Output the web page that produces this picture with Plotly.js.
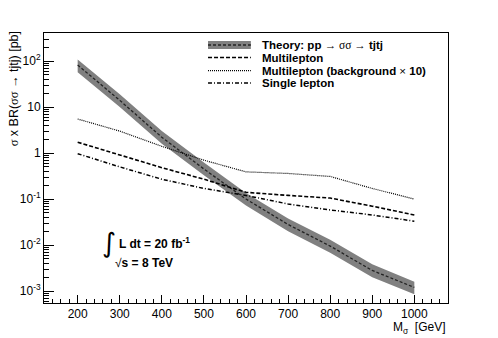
<!DOCTYPE html>
<html>
<head>
<meta charset="utf-8">
<script src="https://cdn.plot.ly/plotly-3.0.1.min.js"></script>
<style>
  body { margin: 0; background: #fff; }
  #chartDiv { width: 498px; height: 338px; }
</style>
</head>
<body>
<div id="chartDiv"></div>
<script>
// mass points [GeV] and values [pb]
var massPts = [200, 300, 400, 500, 600, 700, 800, 900, 1000];
var theoryCentral = [82, 14, 2.2, 0.45, 0.1, 0.028, 0.0095, 0.0028, 0.0012];
var theoryUp = [108, 19, 3.0, 0.62, 0.135, 0.038, 0.013, 0.0038, 0.0016];
var theoryDown = [57, 10, 1.6, 0.33, 0.072, 0.020, 0.0068, 0.0020, 0.00085];
var multiLimit = [1.72, 0.9, 0.48, 0.27, 0.14, 0.12, 0.105, 0.07, 0.045];
var multiBkg10 = [5.5, 3.0, 1.4, 0.7, 0.39, 0.36, 0.31, 0.17, 0.1];
var singleLimit = [0.97, 0.5, 0.27, 0.17, 0.12, 0.078, 0.058, 0.045, 0.033];

// axis ticks
var xTickVals = [200, 300, 400, 500, 600, 700, 800, 900, 1000];
var xTickText = ['200', '300', '400', '500', '600', '700', '800', '900', '1000'];
var yTickVals = [0.001, 0.01, 0.1, 1, 10, 100];
var yTickText = ['10<sup>-3</sup>', '10<sup>-2</sup>', '10<sup>-1</sup>', '1', '10', '10<sup>2</sup>'];

// legend labels
var legendText = [
    '<b>Theory: pp </b><span style="font-family:\'Liberation Serif\'">\u2192 \u03c3\u03c3 \u2192</span><b> tjtj</b>',
    '<b>Multilepton</b>',
    '<b>Multilepton (background </b>\u00d7<b> 10)</b>',
    '<b>Single lepton</b>'
];

// minor ticks like ROOT: every 20 GeV on x, 2..9 in each decade on y
var xMinor = [];
for (var m = 120; m <= 1080; m += 20) {
    if (m % 100 != 0) xMinor.push(m);
}
var yMinor = [];
for (var d = -4; d <= 2; d++) {
    for (var k = 2; k <= 9; k++) yMinor.push(k * Math.pow(10, d));
}

var fontMain = 'Liberation Sans, Arial, sans-serif';

var data = [];
// theory band: upper edge then lower edge filled to it
data.push({
    x: massPts, y: theoryUp, mode: 'lines', type: 'scatter',
    line: {width: 0, color: '#808080'}, showlegend: false, hoverinfo: 'skip'
});
data.push({
    x: massPts, y: theoryDown, mode: 'lines', type: 'scatter',
    fill: 'tonexty', fillcolor: '#808080',
    line: {width: 0, color: '#808080'}, showlegend: false
});
data.push({
    x: massPts, y: theoryCentral, mode: 'lines', type: 'scatter',
    line: {width: 1.3, color: '#222', dash: '3px,2px'}, showlegend: false
});
data.push({
    x: massPts, y: multiLimit, mode: 'lines', type: 'scatter',
    line: {width: 1.6, color: '#000', dash: '4px,2px'}, showlegend: false
});
data.push({
    x: massPts, y: multiBkg10, mode: 'lines', type: 'scatter',
    line: {width: 1.2, color: '#000', dash: '1px,1px'}, showlegend: false
});
data.push({
    x: massPts, y: singleLimit, mode: 'lines', type: 'scatter',
    line: {width: 1.5, color: '#000', dash: '4px,2px,1px,2px'}, showlegend: false
});

// legend drawn by hand, ROOT style (no box of its own)
var legY = [0.9556, 0.909, 0.861, 0.8148];
var symX0 = 0.406, symX1 = 0.512, txtX = 0.535;
var shapes = [
    {type: 'rect', xref: 'paper', yref: 'paper', x0: symX0, x1: symX1,
     y0: legY[0] - 0.0148, y1: legY[0] + 0.0148, fillcolor: '#808080', line: {width: 0}},
    {type: 'line', xref: 'paper', yref: 'paper', x0: symX0, x1: symX1,
     y0: legY[0], y1: legY[0], line: {width: 1.3, color: '#222', dash: '3px,2px'}},
    {type: 'line', xref: 'paper', yref: 'paper', x0: symX0, x1: symX1,
     y0: legY[1], y1: legY[1], line: {width: 1.6, color: '#000', dash: '4px,2px'}},
    {type: 'line', xref: 'paper', yref: 'paper', x0: symX0, x1: symX1,
     y0: legY[2], y1: legY[2], line: {width: 1.2, color: '#000', dash: '1px,1px'}},
    {type: 'line', xref: 'paper', yref: 'paper', x0: symX0, x1: symX1,
     y0: legY[3], y1: legY[3], line: {width: 1.5, color: '#000', dash: '4px,2px,1px,2px'}}
];

var annotations = [];
for (var i = 0; i < legendText.length; i++) {
    annotations.push({
        xref: 'paper', yref: 'paper', x: txtX, y: legY[i], xanchor: 'left', yanchor: 'middle',
        text: legendText[i], showarrow: false, font: {family: fontMain, size: 11.5, color: '#000'}
    });
}
// luminosity / energy label
annotations.push({
    xref: 'paper', yref: 'paper', x: 0.138, y: 0.225, xanchor: 'left', yanchor: 'middle',
    text: '\u222b', showarrow: false, font: {family: 'DejaVu Sans', size: 27, color: '#000'}
});
annotations.push({
    xref: 'paper', yref: 'paper', x: 0.180, y: 0.222, xanchor: 'left', yanchor: 'middle',
    text: '<b>L dt = 20 fb<sup>-1</sup></b>', showarrow: false, font: {family: fontMain, size: 12, color: '#000'}
});
annotations.push({
    xref: 'paper', yref: 'paper', x: 0.171, y: 0.150, xanchor: 'left', yanchor: 'middle',
    text: '\u221a<b>s = 8 TeV</b>', showarrow: false, font: {family: fontMain, size: 12, color: '#000'}
});
// axis titles, aligned to the ends like ROOT
annotations.push({
    xref: 'paper', yref: 'paper', x: 1, y: -0.092, xanchor: 'right', yanchor: 'middle',
    text: 'M<sub>\u03c3</sub>  [GeV]', showarrow: false, font: {family: fontMain, size: 12, color: '#000'}
});
annotations.push({
    xref: 'paper', yref: 'paper', x: -0.072, y: 1.015, xanchor: 'center', yanchor: 'top',
    textangle: -90, showarrow: false, font: {family: fontMain, size: 12.5, color: '#000'},
    text: '<span style="font-family:\'Liberation Serif\'">\u03c3</span> x BR(<span style="font-family:\'Liberation Serif\'">\u03c3\u03c3</span> \u2192 tjtj) [pb]'
});

var layout = {
    width: 498, height: 338,
    margin: {l: 44, r: 50, t: 33, b: 35},
    paper_bgcolor: '#fff', plot_bgcolor: '#fff',
    showlegend: false,
    font: {family: fontMain, size: 12, color: '#000'},
    xaxis: {
        range: [120, 1080],
        tickmode: 'array', tickvals: xTickVals, ticktext: xTickText,
        ticks: 'inside', ticklen: 8, tickwidth: 1, tickcolor: '#000',
        minor: {tickmode: 'array', tickvals: xMinor, ticks: 'inside', ticklen: 4, tickwidth: 1, tickcolor: '#000', showgrid: false},
        showline: true, mirror: true, linecolor: '#000', linewidth: 1,
        showgrid: false, zeroline: false,
        tickfont: {family: fontMain, size: 12, color: '#000'}
    },
    yaxis: {
        type: 'log', range: [-3.26, 2.61],
        tickmode: 'array', tickvals: yTickVals, ticktext: yTickText,
        ticks: 'inside', ticklen: 10, tickwidth: 1, tickcolor: '#000',
        minor: {tickmode: 'array', tickvals: yMinor, ticks: 'inside', ticklen: 5, tickwidth: 1, tickcolor: '#000', showgrid: false},
        showline: true, mirror: true, linecolor: '#000', linewidth: 1,
        showgrid: false, zeroline: false,
        tickfont: {family: fontMain, size: 12, color: '#000'}
    },
    shapes: shapes,
    annotations: annotations
};

Plotly.newPlot('chartDiv', data, layout, {displayModeBar: false, staticPlot: true});
</script>
</body>
</html>
